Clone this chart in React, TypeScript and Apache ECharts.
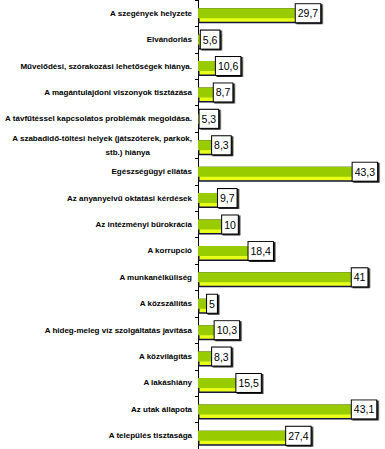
import React, { useEffect, useRef } from "react";
import * as echarts from "echarts";

const categories = [
  "A szegények helyzete",
  "Elvándorlás",
  "Művelődési, szórakozási lehetőségek hiánya.",
  "A magántulajdoni viszonyok tisztázása",
  "A távfűtéssel kapcsolatos problémák megoldása.",
  "A szabadidő-töltési helyek (játszóterek, parkok,\nstb.) hiánya",
  "Egészségügyi ellátás",
  "Az anyanyelvű oktatási kérdések",
  "Az intézményi bürokrácia",
  "A korrupció",
  "A munkanélküliség",
  "A közszállítás",
  "A hideg-meleg víz szolgáltatás javítása",
  "A közvilágítás",
  "A lakáshiány",
  "Az utak állapota",
  "A település tisztasága",
];

const values = [29.7, 5.6, 10.6, 8.7, 5.3, 8.3, 43.3, 9.7, 10, 18.4, 41, 5, 10.3, 8.3, 15.5, 43.1, 27.4];

export default function App() {
  const ref = useRef<HTMLDivElement>(null);
  useEffect(() => {
    if (!ref.current) return;
    const chart = echarts.init(ref.current, undefined, { renderer: "svg" });
    chart.setOption({
      animation: false,
      backgroundColor: "#ffffff",
      grid: { left: 198, right: 3, top: -2, bottom: -3, containLabel: false },
      xAxis: {
        type: "value",
        min: 0,
        max: 44,
        show: false,
      },
      yAxis: {
        type: "category",
        data: categories,
        inverse: true,
        axisLine: { show: true, lineStyle: { color: "#000", width: 1 } },
        axisTick: { show: true, length: 3, lineStyle: { color: "#000" } },
        axisLabel: {
          margin: 6,
          color: "#000",
          fontFamily: "Liberation Sans, Arial, sans-serif",
          fontSize: 8,
          fontWeight: "bold",
          lineHeight: 14,
          formatter: (v: string) => {
            const parts = v.split("\n");
            if (parts.length > 1) {
              return parts[0] + "\n{b|" + parts[1] + "}";
            }
            return v;
          },
          rich: {
            b: {
              color: "#000",
              fontFamily: "Liberation Sans, Arial, sans-serif",
              fontSize: 8,
              fontWeight: "bold",
              padding: [0, 42, 0, 0],
            },
          },
        },
        splitLine: { show: false },
      },
      series: [
        {
          type: "bar",
          data: values,
          barWidth: 15,
          barGap: "-100%",
          itemStyle: { color: "#e8ff1a", borderColor: "#14143a", borderWidth: 1.5 },
          silent: true,
        },
        {
          type: "bar",
          data: values,
          barWidth: 10,
          barGap: "-100%",
          itemStyle: { color: "#99cc00" },
          label: {
            show: true,
            position: "insideRight",
            distance: 2,
            formatter: (p: any) => String(p.value).replace(".", ","),
            color: "#000",
            fontFamily: "Liberation Sans, Arial, sans-serif",
            fontSize: 10.5,
            lineHeight: 13,
            backgroundColor: "#fff",
            borderColor: "#000",
            borderWidth: 1,
            padding: [3, 2, 2, 2],
            shadowColor: "#222",
            shadowOffsetX: 1.5,
            shadowOffsetY: 1,
            shadowBlur: 0,
          },
        },
      ],
    });
    return () => chart.dispose();
  }, []);
  return <div ref={ref} style={{ width: 385, height: 449, position: "absolute", left: 0, top: 0 }} />;
}
